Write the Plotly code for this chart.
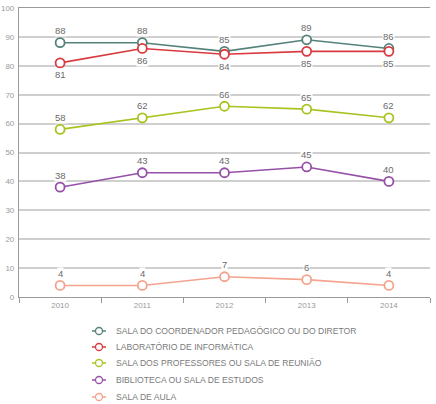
import plotly.graph_objects as go

years = ["2010", "2011", "2012", "2013", "2014"]
names = [
    "SALA DO COORDENADOR PEDAGÓGICO OU DO DIRETOR",
    "LABORATÓRIO DE INFORMÁTICA",
    "SALA DOS PROFESSORES OU SALA DE REUNIÃO",
    "BIBLIOTECA OU SALA DE ESTUDOS",
    "SALA DE AULA",
]
coordenador = [88, 88, 85, 89, 86]
laboratorio = [81, 86, 84, 85, 85]
professores = [58, 62, 66, 65, 62]
biblioteca = [38, 43, 43, 45, 40]
sala_aula = [4, 4, 7, 6, 4]
series = [coordenador, laboratorio, professores, biblioteca, sala_aula]
colors = ["#54827a", "#d93a3f", "#a9c320", "#9650a8", "#f4a48e"]
label_below = [False, True, False, False, False]

W, H = 436, 404
ML, MR, MT, MB = 19, 6, 8, 107
PW, PH = W - ML - MR, H - MT - MB


def px_x(p):
    return (p - ML) / PW


def px_y(p):
    return (H - MB - p) / PH


fig = go.Figure()
for name, vals, col in zip(names, series, colors):
    fig.add_trace(go.Scatter(
        x=years, y=vals, name=name, mode="lines+markers",
        line=dict(color=col, width=1.6),
        marker=dict(symbol="circle", size=9, color="white", line=dict(color=col, width=1.8)),
        showlegend=False,
    ))

annotations = []
for vals, below in zip(series, label_below):
    for i, yv in enumerate(vals):
        annotations.append(dict(
            x=i, y=yv, xref="x", yref="y", text=str(yv), showarrow=False,
            yshift=-12 if below else 12,
            font=dict(family="Liberation Sans, Arial", size=9.5, color="#6b6b6b"),
            bgcolor="white", borderpad=0,
        ))

# legend (drawn below the plot)
shapes = []
row_y = [331, 347, 363, 380, 397]
for name, col, ry in zip(names, colors, row_y):
    shapes.append(dict(type="line", xref="paper", yref="paper",
                       x0=px_x(92), x1=px_x(106), y0=px_y(ry), y1=px_y(ry),
                       line=dict(color=col, width=1.5)))
    shapes.append(dict(type="circle", xref="paper", yref="paper",
                       x0=px_x(95.5), x1=px_x(102.5), y0=px_y(ry + 3.5), y1=px_y(ry - 3.5),
                       fillcolor="white", line=dict(color=col, width=1.3)))
    annotations.append(dict(
        x=px_x(114), y=px_y(ry), xref="paper", yref="paper", text=name,
        showarrow=False, xanchor="left", yanchor="middle",
        font=dict(family="Liberation Sans, Arial", size=8.6, color="#7a7a7a"),
    ))

fig.update_layout(
    width=W, height=H,
    margin=dict(l=ML, r=MR, t=MT, b=MB, autoexpand=False),
    paper_bgcolor="white", plot_bgcolor="white",
    showlegend=False,
    annotations=annotations,
    shapes=shapes,
    xaxis=dict(
        type="category", range=[-0.5, 4.5],
        showgrid=False, showline=True, linecolor="#9a9a9a", linewidth=1.2, mirror=True,
        ticks="outside", tickson="boundaries", ticklen=5, tickcolor="#9a9a9a",
        tickfont=dict(family="Liberation Sans, Arial", size=8, color="#9a9a9a"),
    ),
    yaxis=dict(
        range=[0, 100], dtick=10, showgrid=True, gridcolor="#cfcfcf", gridwidth=1.5,
        showline=True, linecolor="#9a9a9a", linewidth=1.2, zeroline=False,
        tickfont=dict(family="Liberation Sans, Arial", size=8, color="#9a9a9a"),
        ticks="", ticklabelstandoff=2,
    ),
)

fig.write_html("out.html")
